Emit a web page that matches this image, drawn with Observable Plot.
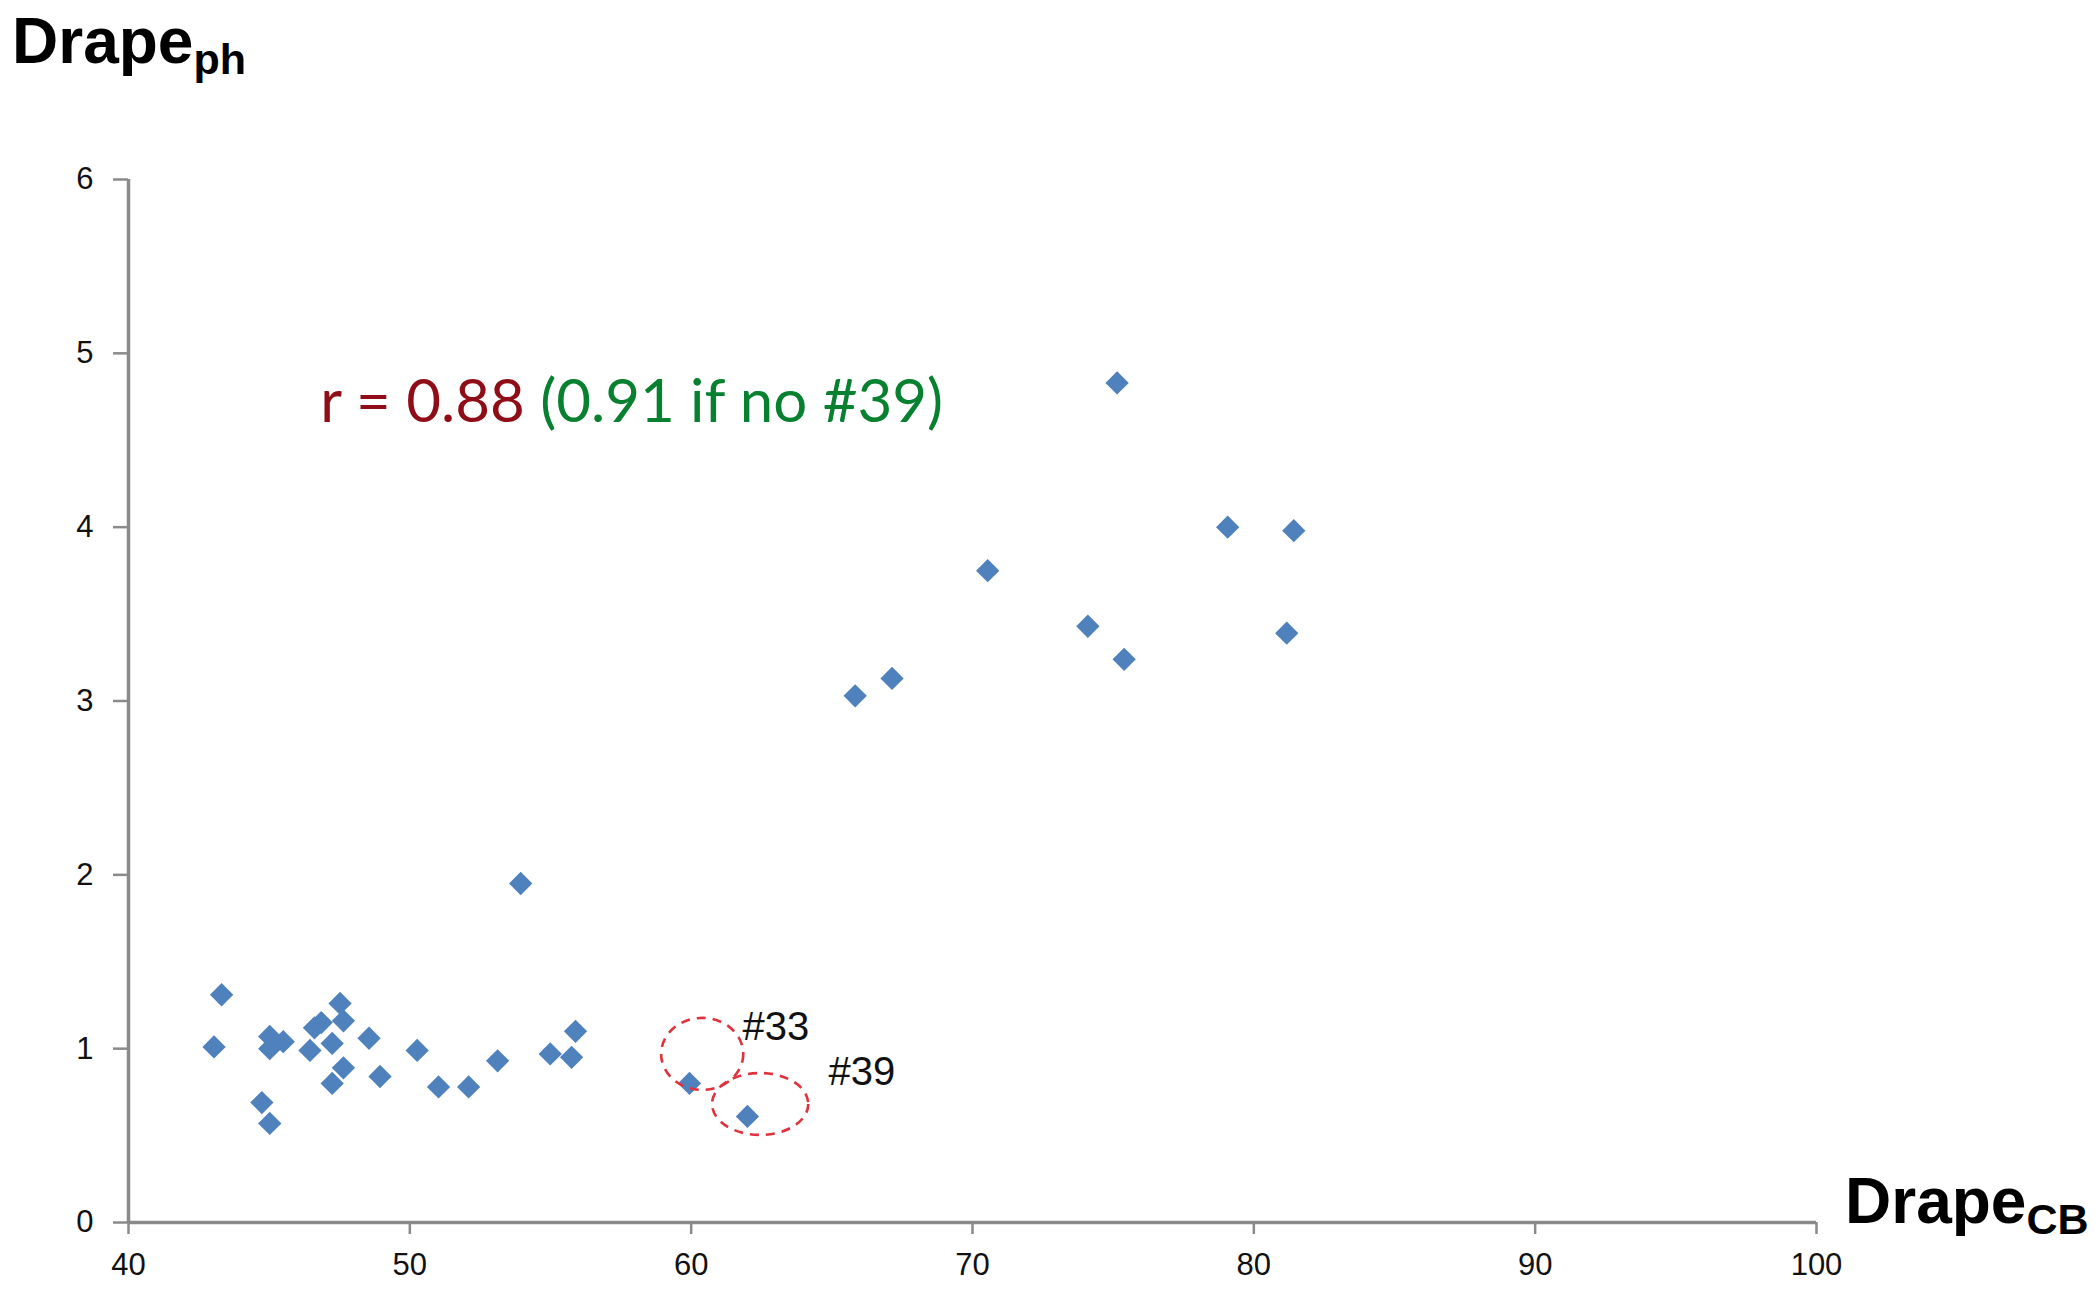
<!DOCTYPE html>
<html>
<head>
<meta charset="utf-8">
<script src="https://cdn.jsdelivr.net/npm/d3@7"></script>
<script src="https://cdn.jsdelivr.net/npm/@observablehq/plot@0.6"></script>
<style>
  html, body { margin: 0; padding: 0; background: #fff; }
  #chart { width: 2099px; height: 1296px; overflow: hidden; }
</style>
</head>
<body>
<div id="chart"></div>
<script>
// ---- data ----
const drapeCB = [43.31, 43.04, 44.74, 45.02, 45.02, 45.02, 45.50, 46.45, 46.61, 46.85,
                 47.24, 47.24, 47.52, 47.64, 47.64, 48.55, 48.94, 50.26, 51.02, 52.09,
                 53.12, 54.99, 55.75, 55.89, 59.94, 62.00, 53.94, 65.83, 67.14, 70.54,
                 74.10, 75.14, 75.39, 79.07, 81.42, 81.17];
const drapePh = [1.31, 1.01, 0.69, 0.57, 1.07, 1.00, 1.04, 0.99, 1.12, 1.15,
                 1.03, 0.80, 1.26, 1.16, 0.89, 1.06, 0.84, 0.99, 0.78, 0.78,
                 0.93, 0.97, 0.95, 1.10, 0.80, 0.61, 1.95, 3.03, 3.13, 3.75,
                 3.43, 4.83, 3.24, 4.00, 3.98, 3.39];
const sampleIds = drapeCB.map((_, i) => i === 24 ? "#33" : i === 25 ? "#39" : "");
const xTicks = [40, 50, 60, 70, 80, 90, 100];
const yTicks = [0, 1, 2, 3, 4, 5, 6];
const rMain = "r = 0.88";
const rAlt = "(0.91 if no #39)";
// highlighted samples: ellipse centre and radii in data units
const highlightIds = ["#33", "#39"];
const highlightCx = [60.41, 62.47];
const highlightCy = [0.967, 0.679];
const highlightRx = [1.46, 1.71];
const highlightRy = [0.207, 0.178];

const points = drapeCB.map((x, i) => ({x, y: drapePh[i], id: sampleIds[i]}));
const labelled = points.filter(d => d.id);

const W = 2099, H = 1296;
const axisColor = "#8a8a8a";

const plot = Plot.plot({
  width: W,
  height: H,
  marginLeft: 128,
  marginRight: 283,
  marginTop: 179,
  marginBottom: 74,
  style: {background: "#fff", fontFamily: "'Liberation Sans', Arial, sans-serif", color: "#111"},
  x: {domain: [40, 100], ticks: xTicks},
  y: {domain: [0, 6], ticks: yTicks},
  marks: [
    Plot.axisX({ticks: xTicks, tickSize: 12, tickPadding: 18, tickFormat: d => String(d),
                stroke: axisColor, strokeWidth: 2.5, fill: "#111", fontSize: 31, label: null}),
    Plot.axisY({ticks: yTicks, tickSize: 15, tickPadding: 20, tickFormat: d => String(d),
                stroke: axisColor, strokeWidth: 2.5, fill: "#111", fontSize: 31, label: null}),
    Plot.ruleY([0], {stroke: axisColor, strokeWidth: 3.5}),
    Plot.ruleX([40], {stroke: axisColor, strokeWidth: 3.5}),
    Plot.dot(points, {x: "x", y: "y", symbol: "diamond2", r: 10.5, fill: "#4f81bd", stroke: null}),
    Plot.text(labelled.filter(d => d.id === "#33"), {x: "x", y: "y", text: "id", textAnchor: "start",
              lineAnchor: "bottom", dx: 53, dy: -43, fontSize: 40, fill: "#111"}),
    Plot.text(labelled.filter(d => d.id === "#39"), {x: "x", y: "y", text: "id", textAnchor: "start",
              lineAnchor: "bottom", dx: 81, dy: -31, fontSize: 40, fill: "#111"})
  ]
});

document.getElementById("chart").appendChild(plot);

const svg = d3.select(plot);
const sx = plot.scale("x"), sy = plot.scale("y");

// dashed ellipses around the highlighted samples, via the plot's scales
highlightIds.forEach((id, i) => {
  const cx = sx.apply(highlightCx[i]), cy = sy.apply(highlightCy[i]);
  const rx = Math.abs(sx.apply(highlightCx[i] + highlightRx[i]) - cx);
  const ry = Math.abs(sy.apply(highlightCy[i] + highlightRy[i]) - cy);
  svg.append("ellipse")
    .attr("cx", cx).attr("cy", cy).attr("rx", rx).attr("ry", ry)
    .attr("fill", "none").attr("stroke", "#e0323c").attr("stroke-width", 2.6)
    .attr("stroke-dasharray", "9 7");
});

// correlation annotation
const ann = svg.append("text")
  .attr("x", sx.apply(46.83)).attr("y", sy.apply(4.60))
  .attr("text-anchor", "start")
  .attr("font-family", "Lato, 'Open Sans', sans-serif")
  .attr("font-size", 60);
ann.append("tspan").attr("fill", "#8e0d16").text(rMain + " ");
ann.append("tspan").attr("fill", "#07812f").text(rAlt);

// axis titles with subscripts
function axisTitle(x, y, main, sub) {
  const t = svg.append("text")
    .attr("x", x).attr("y", y)
    .attr("text-anchor", "start")
    .attr("font-family", "'Liberation Sans', Arial, sans-serif")
    .attr("font-weight", "bold").attr("font-size", 64).attr("fill", "#000");
  t.append("tspan").text(main);
  t.append("tspan").attr("font-size", 43).attr("dy", 11).text(sub);
}
axisTitle(12, 63, "Drape", "ph");
axisTitle(1845, 1223, "Drape", "CB");
</script>
</body>
</html>
